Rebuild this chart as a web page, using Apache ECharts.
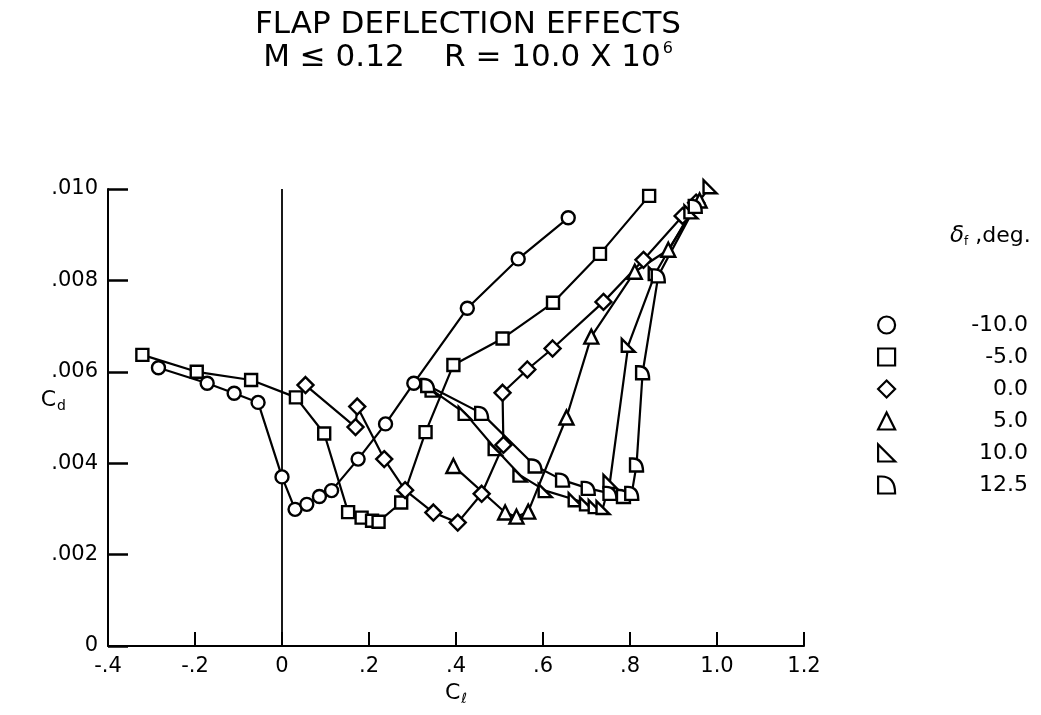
<!DOCTYPE html>
<html>
<head>
<meta charset="utf-8">
<script src="https://cdn.jsdelivr.net/npm/echarts@6/dist/echarts.min.js"></script>
<style>
  html, body { margin: 0; padding: 0; background: #fff; }
  #chart { width: 1041px; height: 715px; }
</style>
</head>
<body>
<div id="chart"></div>
<script>
// Section drag polar: [lift coefficient c_l, drag coefficient c_d] per flap deflection
const flapMinus10 = [[-0.284,0.00609],[-0.172,0.00575],[-0.110,0.00553],[-0.055,0.00533],[0.000,0.00370],[0.030,0.00299],[0.057,0.00310],[0.086,0.00327],[0.114,0.00340],[0.175,0.00409],[0.238,0.00486],[0.303,0.00575],[0.426,0.00739],[0.543,0.00847],[0.658,0.00937]];
const flapMinus5 = [[-0.321,0.00637],[-0.196,0.00600],[-0.071,0.00582],[0.032,0.00544],[0.097,0.00465],[0.152,0.00293],[0.183,0.00281],[0.207,0.00274],[0.222,0.00272],[0.274,0.00314],[0.330,0.00468],[0.394,0.00615],[0.507,0.00673],[0.623,0.00751],[0.731,0.00858],[0.844,0.00985]];
const flap0 = [[0.054,0.00571],[0.169,0.00479],[0.173,0.00524],[0.235,0.00409],[0.283,0.00341],[0.348,0.00292],[0.404,0.00270],[0.459,0.00333],[0.509,0.00440],[0.507,0.00554],[0.564,0.00605],[0.622,0.00651],[0.739,0.00753],[0.831,0.00845],[0.921,0.00941],[0.952,0.00970]];
const flap5 = [[0.394,0.00394],[0.513,0.00292],[0.539,0.00283],[0.566,0.00294],[0.654,0.00500],[0.711,0.00677],[0.811,0.00819],[0.888,0.00867],[0.960,0.00975]];
const flap10 = [[0.345,0.00560],[0.421,0.00509],[0.490,0.00432],[0.547,0.00374],[0.605,0.00340],[0.674,0.00320],[0.700,0.00311],[0.720,0.00305],[0.738,0.00303],[0.754,0.00360],[0.796,0.00658],[0.858,0.00815],[0.940,0.00950],[0.984,0.01005]];
const flap12p5 = [[0.335,0.00570],[0.459,0.00509],[0.582,0.00394],[0.645,0.00363],[0.704,0.00345],[0.754,0.00334],[0.785,0.00327],[0.804,0.00334],[0.815,0.00396],[0.829,0.00598],[0.865,0.00810],[0.950,0.00962]];

// Zero-lift reference line
const zeroLiftLine = [[0, 0], [0, 0.010]];

const deflectionLabels = ['-10.0', '-5.0', '0.0', '5.0', '10.0', '12.5'];
const xTicks = { min: -0.4, max: 1.2, step: 0.2 };
const yTicks = { min: 0, max: 0.010, step: 0.002 };

const symbolShapes = [
  'circle',
  'rect',
  'diamond',
  'triangle',
  'path://M0,0L0,10L10,10Z',
  'path://M0,0L2,0Q10,0 10,10L0,10Z'
];
const symbolSizes = [13, 12, 16, 14, 13, 13];
const seriesData = [flapMinus10, flapMinus5, flap0, flap5, flap10, flap12p5];

const FONT = 'DejaVu Sans';

function xLabel(v) {
  if (Math.abs(v) < 1e-9) return '0';
  if (Math.abs(v) >= 1 - 1e-9) return v.toFixed(1);
  return v.toFixed(1).replace('0.', '.');
}
function yLabel(v) {
  if (Math.abs(v) < 1e-12) return '0';
  return '.' + String(Math.round(v * 1000)).padStart(3, '0');
}

const series = seriesData.map((d, i) => ({
  name: deflectionLabels[i],
  type: 'line',
  data: d,
  clip: false,
  symbol: symbolShapes[i],
  symbolSize: symbolSizes[i],
  showAllSymbol: true,
  itemStyle: { color: '#fff', borderColor: '#000', borderWidth: 2.4 },
  lineStyle: { color: '#000', width: 2.2 },
  emphasis: { disabled: true },
  z: 3
}));
series.push({
  name: 'zero',
  type: 'line',
  data: zeroLiftLine,
  symbol: 'none',
  silent: true,
  lineStyle: { color: '#000', width: 1.8 },
  z: 2
});

const chart = echarts.init(document.getElementById('chart'));
chart.setOption({
  animation: false,
  backgroundColor: '#fff',
  title: [
    {
      text: 'FLAP DEFLECTION EFFECTS\n{a|M ≤ 0.12    R = 10.0 X 10}{sup|6}',
      left: 463,
      top: 3,
      textAlign: 'center',
      textStyle: {
        fontFamily: FONT, fontSize: 31, fontWeight: 'normal', color: '#000', lineHeight: 33,
        rich: {
          a: { fontFamily: FONT, fontSize: 31, fontWeight: 'normal', color: '#000', lineHeight: 33 },
          sup: { fontFamily: FONT, fontSize: 16, fontWeight: 'normal', color: '#000', verticalAlign: 'top', lineHeight: 33, padding: [0, 0, 14, 2] }
        }
      }
    },
    {
      text: '{d|δ}{f|f}{t| ,deg.}',
      left: 945,
      top: 220,
      textStyle: {
        fontWeight: 'normal',
        rich: {
          d: { fontFamily: FONT, fontSize: 23, fontWeight: 'normal', color: '#000', fontStyle: 'italic' },
          f: { fontFamily: FONT, fontSize: 12, fontWeight: 'normal', color: '#000', padding: [10, 0, 0, 0] },
          t: { fontFamily: FONT, fontSize: 22, fontWeight: 'normal', color: '#000' }
        }
      }
    }
  ],
  legend: {
    orient: 'vertical',
    left: 872,
    top: 309,
    itemWidth: 17,
    itemHeight: 17,
    itemGap: 10,
    selectedMode: false,
    data: deflectionLabels.map((n, i) => ({ name: n, icon: symbolShapes[i] })),
    itemStyle: { color: '#fff', borderColor: '#000', borderWidth: 2.2 },
    formatter: n => '{t|' + n + '}',
    textStyle: {
      rich: { t: { fontFamily: FONT, fontSize: 22, color: '#000', width: 128, align: 'right', lineHeight: 23 } }
    }
  },
  grid: { left: 108, right: 237, top: 189, bottom: 69, containLabel: false },
  xAxis: {
    type: 'value',
    min: xTicks.min, max: xTicks.max, interval: xTicks.step,
    name: '{c|C}{s|ℓ}',
    nameLocation: 'middle',
    nameGap: 34,
    nameMoveOverlap: false,
    nameTextStyle: {
      rich: {
        c: { fontFamily: FONT, fontSize: 22, color: '#000' },
        s: { fontFamily: FONT, fontSize: 14, color: '#000', padding: [12, 0, 0, 1] }
      }
    },
    axisLine: { onZero: false, lineStyle: { color: '#000', width: 2 } },
    axisTick: { inside: true, length: 14, lineStyle: { color: '#000', width: 2 } },
    axisLabel: { formatter: xLabel, fontFamily: FONT, fontSize: 21, color: '#000', margin: 10 },
    splitLine: { show: false }
  },
  yAxis: {
    type: 'value',
    min: yTicks.min, max: yTicks.max, interval: yTicks.step,
    name: '{c|C}{s|d}',
    nameLocation: 'middle',
    nameRotate: 0,
    nameGap: 42,
    nameMoveOverlap: false,
    nameTextStyle: {
      padding: [0, 0, 34, 0],
      rich: {
        c: { fontFamily: FONT, fontSize: 22, color: '#000' },
        s: { fontFamily: FONT, fontSize: 14, color: '#000', padding: [12, 0, 0, 1] }
      }
    },
    axisLine: { onZero: false, lineStyle: { color: '#000', width: 2 } },
    axisTick: { inside: true, length: 20, lineStyle: { color: '#000', width: 2.5 } },
    axisLabel: { formatter: yLabel, fontFamily: FONT, fontSize: 21, color: '#000', margin: 10 },
    splitLine: { show: false }
  },
  series: series
});
</script>
</body>
</html>
